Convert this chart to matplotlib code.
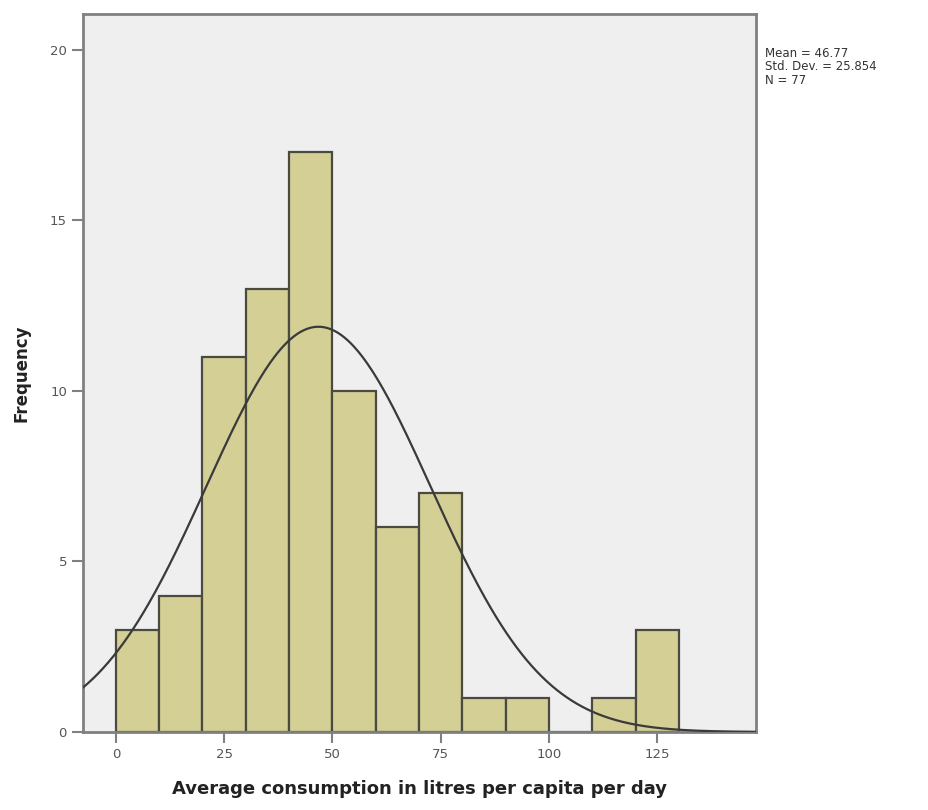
import numpy as np
import matplotlib
matplotlib.use("Agg")
import matplotlib.pyplot as plt

bin_edges = [0, 10, 20, 30, 40, 50, 60, 70, 80, 90, 100, 110, 120, 130]
counts = [3, 4, 11, 13, 17, 10, 6, 7, 1, 1, 0, 1, 3]
mean = 46.77
std = 25.854
n = 77
xticks = [0, 25, 50, 75, 100, 125]
yticks = [0, 5, 10, 15, 20]

fig = plt.figure(figsize=(9.29, 8.10), dpi=100)
ax = fig.add_axes([0.0893, 0.0963, 0.7245, 0.8864])
ax.set_facecolor("#efefef")

lefts = bin_edges[:-1]
widths = np.diff(bin_edges)
ax.bar(lefts, counts, width=widths, align="edge", color="#d3cf95",
       edgecolor="#4a4a40", linewidth=1.6, zorder=2)

xmin, xmax = -7.6, 147.8
xs = np.linspace(xmin, xmax, 400)
bw = 10
ys = n * bw / (std * np.sqrt(2 * np.pi)) * np.exp(-0.5 * ((xs - mean) / std) ** 2)
ax.plot(xs, ys, color="#3a3a3a", linewidth=1.6, zorder=3)

ax.set_xlim(xmin, xmax)
ax.set_ylim(0, 21.05)
ax.set_xticks(xticks)
ax.set_yticks(yticks)
for s in ax.spines.values():
    s.set_color("#808080")
    s.set_linewidth(2)
ax.tick_params(axis="both", colors="#808080", labelcolor="#555555",
               length=8, width=1.5, labelsize=9.5)
ax.set_xlabel("Average consumption in litres per capita per day",
              fontsize=13, fontweight="bold", color="#222222", labelpad=14)
ax.set_ylabel("Frequency", fontsize=12, fontweight="bold", color="#222222",
              labelpad=14)

fig.text(0.824, 0.942, f"Mean = {mean}\nStd. Dev. = {std}\nN = {n}",
         fontsize=8.5, color="#333333", va="top", ha="left", linespacing=1.05)

fig.savefig("out.png", dpi=100, facecolor="white")
